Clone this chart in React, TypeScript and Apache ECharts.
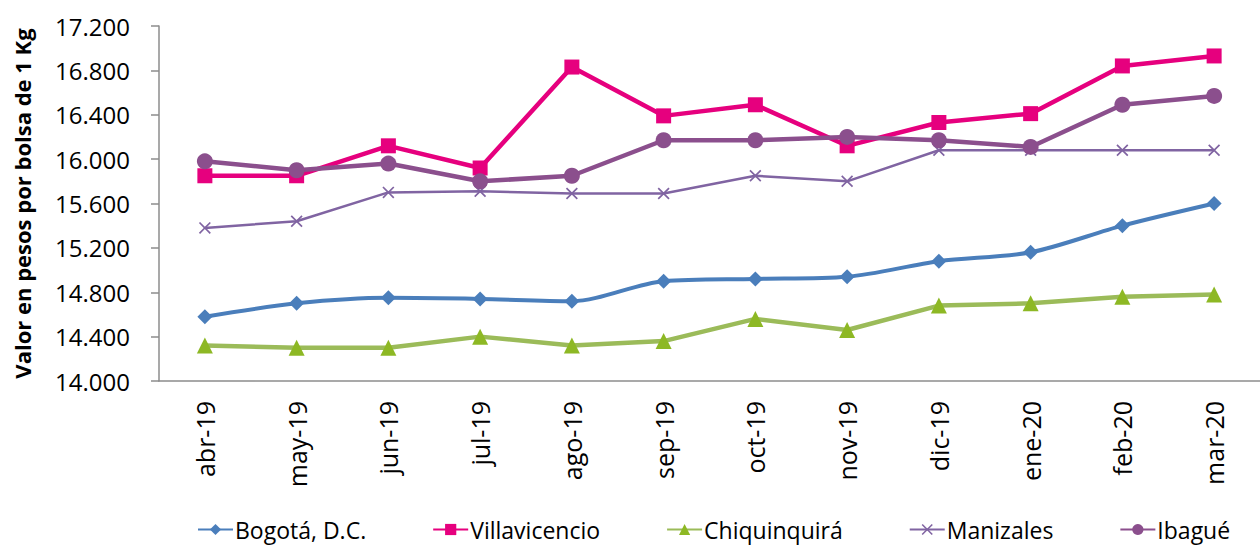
import React, { useEffect, useRef } from "react";
import * as echarts from "echarts";

const categories = ["abr-19", "may-19", "jun-19", "jul-19", "ago-19", "sep-19", "oct-19", "nov-19", "dic-19", "ene-20", "feb-20", "mar-20"];
const bogota = [14580, 14700, 14750, 14740, 14720, 14900, 14920, 14940, 15080, 15160, 15400, 15600];
const villavicencio = [15850, 15850, 16120, 15920, 16830, 16390, 16490, 16120, 16330, 16410, 16840, 16930];
const chiquinquira = [14320, 14300, 14300, 14400, 14320, 14360, 14560, 14460, 14680, 14700, 14760, 14780];
const manizales = [15380, 15440, 15700, 15710, 15690, 15690, 15850, 15800, 16080, 16080, 16080, 16080];
const ibague = [15980, 15900, 15960, 15800, 15850, 16170, 16170, 16200, 16170, 16110, 16490, 16570];

const FONT = "'Open Sans', 'Noto Sans', sans-serif";
const CROSS = "path://M0,1L1,0L5,4L9,0L10,1L6,5L10,9L9,10L5,6L1,10L0,9L4,5Z";

export default function App() {
  const ref = useRef<HTMLDivElement>(null);
  useEffect(() => {
    if (!ref.current) return;
    const chart = echarts.init(ref.current, undefined, { renderer: "svg" });
    chart.setOption({
      animation: false,
      backgroundColor: "#ffffff",
      textStyle: { fontFamily: FONT },
      grid: { left: 159, right: -10, top: 26, bottom: 169, containLabel: false },
      legend: {
        left: 197,
        top: 518,
        padding: 0,
        itemGap: 66,
        itemWidth: 35,
        itemHeight: 14,
        textStyle: { fontFamily: FONT, fontSize: 23, lineHeight: 23, color: "#000", padding: [0, 0, 0, -3] },
        data: ["Bogotá, D.C.", "Villavicencio", "Chiquinquirá", "Manizales", "Ibagué"],
      },
      xAxis: {
        type: "category",
        data: categories,
        boundaryGap: true,
        axisLine: { lineStyle: { color: "#8c8c8c", width: 1.5 } },
        axisTick: { show: false },
        axisLabel: { rotate: 90, margin: 20, fontSize: 25, color: "#000", fontFamily: FONT },
      },
      yAxis: {
        type: "value",
        min: 14000,
        max: 17200,
        interval: 400,
        name: "Valor en pesos por bolsa de 1 Kg",
        nameLocation: "middle",
        nameRotate: 90,
        nameGap: 126,
        nameTextStyle: { fontFamily: FONT, fontSize: 22, fontWeight: "bold", color: "#000" },
        splitLine: { show: false },
        axisLine: { show: true, lineStyle: { color: "#8c8c8c", width: 1.5 } },
        axisTick: { show: true, length: 8, lineStyle: { color: "#8c8c8c", width: 1.5 } },
        axisLabel: {
          fontSize: 24,
          color: "#000",
          fontFamily: FONT,
          margin: 29,
          formatter: (v: number) => Math.floor(v / 1000) + "." + String(v % 1000).padStart(3, "0"),
        },
      },
      series: [
        {
          name: "Bogotá, D.C.",
          type: "line",
          data: bogota,
          smooth: 0.3,
          symbol: "diamond",
          symbolSize: 15,
          lineStyle: { color: "#4a7ebb", width: 4 },
          itemStyle: { color: "#4a7ebb" },
        },
        {
          name: "Villavicencio",
          type: "line",
          data: villavicencio,
          symbol: "rect",
          symbolSize: 15,
          lineStyle: { color: "#e6007e", width: 4.5 },
          itemStyle: { color: "#e6007e" },
        },
        {
          name: "Chiquinquirá",
          type: "line",
          data: chiquinquira,
          symbol: "triangle",
          symbolSize: 16,
          lineStyle: { color: "#9bbb59", width: 4.5 },
          itemStyle: { color: "#8db824" },
        },
        {
          name: "Manizales",
          type: "line",
          data: manizales,
          symbol: CROSS,
          symbolSize: 12,
          lineStyle: { color: "#8064a2", width: 2.5 },
          itemStyle: { color: "#8064a2" },
        },
        {
          name: "Ibagué",
          type: "line",
          data: ibague,
          symbol: "circle",
          symbolSize: 16,
          lineStyle: { color: "#8b4f8d", width: 4.5 },
          itemStyle: { color: "#8b4f8d" },
        },
      ],
    });
    return () => chart.dispose();
  }, []);
  return <div ref={ref} style={{ position: "fixed", left: 0, top: 0, width: 1260, height: 550 }} />;
}
